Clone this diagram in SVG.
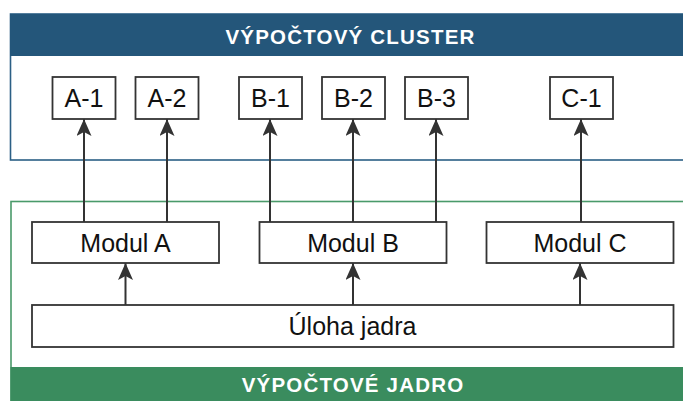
<svg xmlns="http://www.w3.org/2000/svg" width="683" height="401" viewBox="0 0 683 401">
<style>
.box{fill:#fff;stroke:#333;stroke-width:1.8}
.lbl{font-family:"Liberation Sans",Arial,sans-serif;font-size:25px;fill:#111;text-anchor:middle}
.hdr{font-family:"Liberation Sans",Arial,sans-serif;font-size:20.5px;font-weight:bold;fill:#fff;text-anchor:middle;letter-spacing:1.2px}
.conn{stroke:#333;stroke-width:2;fill:none;marker-end:url(#arr)}
</style>
<defs>
<marker id="arr" markerUnits="userSpaceOnUse" markerWidth="18" markerHeight="16" refX="17" refY="7.5" orient="auto">
<path d="M0,0 L17,7.5 L0,15 L4,7.5 z" fill="#333"/>
</marker>
</defs>
<rect width="683" height="401" fill="#fff"/>
<g id="cluster">
<rect x="10.5" y="14" width="700" height="146" fill="#fff" stroke="#2B5F85" stroke-width="1.6"/>
<rect x="10" y="14" width="700" height="42" fill="#24567A"/>
<text class="hdr" x="350.5" y="44">VÝPOČTOVÝ CLUSTER</text>
</g>
<g id="core">
<rect x="11" y="201.5" width="700" height="210" fill="#fff" stroke="#4A9A6A" stroke-width="1.6"/>
<rect x="10.5" y="367" width="700" height="34" fill="#3A8C5E"/>
<text class="hdr" x="353" y="392">VÝPOČTOVÉ JADRO</text>
</g>
<g id="connectors">
<line class="conn" x1="84" y1="222" x2="84" y2="119"/>
<line class="conn" x1="167" y1="222" x2="167" y2="119"/>
<line class="conn" x1="270" y1="222" x2="270" y2="119"/>
<line class="conn" x1="353" y1="222" x2="353" y2="119"/>
<line class="conn" x1="436" y1="222" x2="436" y2="119"/>
<line class="conn" x1="581" y1="222" x2="581" y2="119"/>
<line class="conn" x1="125.5" y1="305" x2="125.5" y2="263"/>
<line class="conn" x1="353" y1="305" x2="353" y2="263"/>
<line class="conn" x1="580" y1="305" x2="580" y2="263"/>
</g>
<g id="A-1"><rect class="box" x="52.5" y="77" width="63" height="42"/><text class="lbl" x="84" y="106.5">A-1</text></g>
<g id="A-2"><rect class="box" x="135.5" y="77" width="63" height="42"/><text class="lbl" x="167" y="106.5">A-2</text></g>
<g id="B-1"><rect class="box" x="239" y="77" width="63" height="42"/><text class="lbl" x="270.5" y="106.5">B-1</text></g>
<g id="B-2"><rect class="box" x="322" y="77" width="63" height="42"/><text class="lbl" x="353.5" y="106.5">B-2</text></g>
<g id="B-3"><rect class="box" x="405" y="77" width="63" height="42"/><text class="lbl" x="436.5" y="106.5">B-3</text></g>
<g id="C-1"><rect class="box" x="550" y="77" width="63" height="42"/><text class="lbl" x="581.5" y="106.5">C-1</text></g>
<g id="modul-a"><rect class="box" x="32" y="222" width="187" height="41"/><text class="lbl" x="125.5" y="251.5">Modul A</text></g>
<g id="modul-b"><rect class="box" x="259.5" y="222" width="187" height="41"/><text class="lbl" x="353" y="251.5">Modul B</text></g>
<g id="modul-c"><rect class="box" x="486.5" y="222" width="187" height="41"/><text class="lbl" x="580" y="251.5">Modul C</text></g>
<g id="uloha"><rect class="box" x="32" y="305" width="641.5" height="42"/><text class="lbl" x="352.5" y="335">Úloha jadra</text></g>
</svg>
